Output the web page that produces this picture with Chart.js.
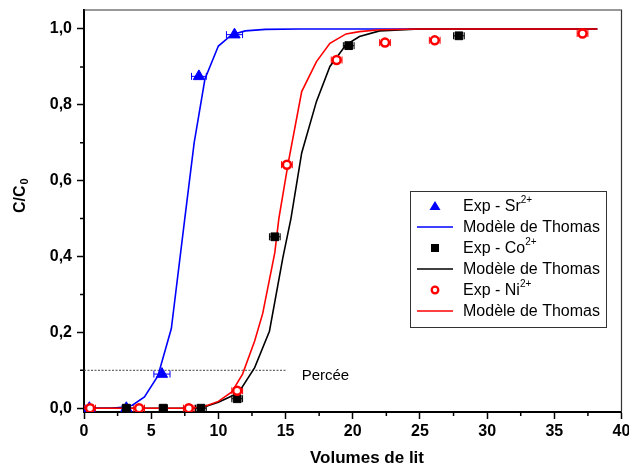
<!DOCTYPE html>
<html>
<head>
<meta charset="utf-8">
<script src="https://cdn.jsdelivr.net/npm/chart.js@4"></script>
<style>
  body { margin: 0; background: #fff; }
  canvas { display: block; }
</style>
</head>
<body>
<canvas id="myChart" width="629" height="466"></canvas>
<script>
// axis ticks
const xTicks = [0, 5, 10, 15, 20, 25, 30, 35, 40];
const yTicks = [0, 0.2, 0.4, 0.6, 0.8, 1.0];

// experimental points (volumes de lit, C/C0) and x error
const srX = [0.4, 3.15, 5.8, 8.55, 11.2];
const srY = [0, 0, 0.09, 0.875, 0.985];
const srErr = [0.3, 0.3, 0.6, 0.55, 0.6];

const coX = [3.15, 5.9, 8.7, 11.4, 14.2, 19.7, 27.9];
const coY = [0, 0, 0, 0.025, 0.452, 0.956, 0.982];
const coErr = [0.3, 0.3, 0.4, 0.4, 0.4, 0.4, 0.4];

const niX = [0.45, 4.1, 7.8, 11.4, 15.1, 18.8, 22.4, 26.1, 37.1];
const niY = [0, 0, 0, 0.046, 0.642, 0.918, 0.964, 0.97, 0.988];
const niErr = [0.4, 0.4, 0.4, 0.4, 0.4, 0.4, 0.4, 0.4, 0.4];

// Thomas model curves
const srModelX = [0, 1, 2, 3, 3.6, 4.5, 5.5, 6.5, 7.5, 8.2, 9.0, 10.0, 11.0, 12.0, 13.5, 16, 20, 25, 30, 35, 38.2];
const srModelY = [0, 0, 0, 0.003, 0.008, 0.03, 0.085, 0.21, 0.5, 0.7, 0.868, 0.955, 0.985, 0.995, 0.999, 1, 1, 1, 1, 1, 1];

const coModelX = [0, 4, 8, 9, 10, 11, 11.6, 12.7, 13.8, 14.8, 15.4, 16.2, 17.3, 18.3, 19.5, 20.5, 22, 25, 30, 35, 38.2];
const coModelY = [0, 0, 0, 0.004, 0.016, 0.032, 0.046, 0.107, 0.203, 0.397, 0.5, 0.673, 0.809, 0.901, 0.958, 0.98, 0.995, 1, 1, 1, 1];

const niModelX = [0, 4, 8, 9, 10, 11, 11.8, 12.7, 13.3, 14.2, 14.5, 15.2, 16.2, 17.3, 18.3, 19.5, 20.5, 22, 25, 30, 35, 38.2];
const niModelY = [0, 0, 0, 0.005, 0.018, 0.043, 0.09, 0.177, 0.25, 0.41, 0.5, 0.647, 0.835, 0.914, 0.962, 0.987, 0.993, 0.998, 1, 1, 1, 1];

// breakthrough line
const perceeX = [0, 15];
const perceeY = [0.1, 0.1];

function pts(xs, ys) {
  return xs.map((x, i) => ({ x: x, y: ys[i] }));
}

const BLUE = '#0000ff';
const BLACK = '#000000';
const RED = '#ff0000';

const datasets = [
  { label: 'Exp - Sr', sup: '2+', kind: 'triangle', data: pts(srX, srY), err: srErr,
    showLine: false, pointStyle: 'triangle', pointRadius: 6.5, backgroundColor: BLUE, borderColor: BLUE, borderWidth: 1, order: 2 },
  { label: 'Modèle de Thomas', kind: 'line', data: pts(srModelX, srModelY),
    borderColor: BLUE, borderWidth: 1.6, pointRadius: 0, order: 5 },
  { label: 'Exp - Co', sup: '2+', kind: 'rect', data: pts(coX, coY), err: coErr,
    showLine: false, pointStyle: 'rect', pointRadius: 5.5, backgroundColor: BLACK, borderColor: BLACK, borderWidth: 1, order: 1 },
  { label: 'Modèle de Thomas', kind: 'line', data: pts(coModelX, coModelY),
    borderColor: BLACK, borderWidth: 1.6, pointRadius: 0, order: 4 },
  { label: 'Exp - Ni', sup: '2+', kind: 'circle', data: pts(niX, niY), err: niErr,
    showLine: false, pointStyle: 'circle', pointRadius: 4, backgroundColor: '#ffffff', borderColor: RED, borderWidth: 2.5, order: 0 },
  { label: 'Modèle de Thomas', kind: 'line', data: pts(niModelX, niModelY),
    borderColor: RED, borderWidth: 1.6, pointRadius: 0, order: 3 },
  { label: 'Percée', kind: 'none', data: pts(perceeX, perceeY),
    borderColor: '#444', borderWidth: 1, borderDash: [2, 1.5], pointRadius: 0, order: 6 }
];

// horizontal error bars, minor ticks, frame, titles and legend
const extras = {
  id: 'extras',
  beforeDatasetsDraw(chart) {
    const ctx = chart.ctx;
    const xs = chart.scales.x, ys = chart.scales.y;
    ctx.save();
    chart.data.datasets.forEach(ds => {
      if (!ds.err) return;
      ctx.strokeStyle = ds.borderColor;
      ctx.lineWidth = 1;
      ds.data.forEach((p, i) => {
        const x1 = xs.getPixelForValue(p.x - ds.err[i]);
        const x2 = xs.getPixelForValue(p.x + ds.err[i]);
        const y = ys.getPixelForValue(p.y);
        ctx.beginPath();
        ctx.moveTo(x1, y); ctx.lineTo(x2, y);
        ctx.moveTo(x1, y - 3.5); ctx.lineTo(x1, y + 3.5);
        ctx.moveTo(x2, y - 3.5); ctx.lineTo(x2, y + 3.5);
        ctx.stroke();
      });
    });
    ctx.restore();
  },
  afterDraw(chart) {
    const ctx = chart.ctx;
    const a = chart.chartArea;
    const xs = chart.scales.x, ys = chart.scales.y;
    ctx.save();

    // top and right frame
    ctx.strokeStyle = '#333';
    ctx.lineWidth = 1.2;
    ctx.beginPath();
    ctx.moveTo(a.left, a.top); ctx.lineTo(a.right, a.top); ctx.lineTo(a.right, a.bottom);
    ctx.stroke();

    // minor ticks
    ctx.strokeStyle = '#000';
    ctx.lineWidth = 1.5;
    ctx.beginPath();
    for (let i = 0; i < xTicks.length - 1; i++) {
      const px = xs.getPixelForValue((xTicks[i] + xTicks[i + 1]) / 2);
      ctx.moveTo(px, a.bottom); ctx.lineTo(px, a.bottom + 4);
    }
    for (let i = 0; i < yTicks.length - 1; i++) {
      const py = ys.getPixelForValue((yTicks[i] + yTicks[i + 1]) / 2);
      ctx.moveTo(a.left, py); ctx.lineTo(a.left - 4, py);
    }
    ctx.stroke();

    // axis titles
    ctx.fillStyle = '#000';
    ctx.font = 'bold 17px "Liberation Sans", Arial, sans-serif';
    ctx.textAlign = 'center';
    ctx.textBaseline = 'alphabetic';
    ctx.fillText('Volumes de lit', 367, 463);

    ctx.translate(25, 213);
    ctx.rotate(-Math.PI / 2);
    ctx.textAlign = 'left';
    ctx.font = 'bold 16px "Liberation Sans", Arial, sans-serif';
    ctx.fillText('C/C', 0, 0);
    const w = ctx.measureText('C/C').width;
    ctx.font = 'bold 11px "Liberation Sans", Arial, sans-serif';
    ctx.fillText('0', w + 1, 3);
    ctx.setTransform(1, 0, 0, 1, 0, 0);

    // Percée label
    ctx.font = '15px "Liberation Sans", Arial, sans-serif';
    ctx.textAlign = 'left';
    ctx.fillText('Percée', xs.getPixelForValue(16.2), ys.getPixelForValue(0.1) + 10);

    // legend
    const box = { left: 410, top: 191, right: 606, bottom: 327 };
    ctx.strokeStyle = '#333';
    ctx.lineWidth = 1;
    ctx.strokeRect(box.left + 0.5, box.top + 0.5, box.right - box.left, box.bottom - box.top);
    let row = 0;
    chart.data.datasets.forEach(ds => {
      if (ds.kind === 'none') return;
      const y = 206 + row * 21;
      const cx = 435;
      ctx.fillStyle = ds.borderColor;
      ctx.strokeStyle = ds.borderColor;
      if (ds.kind === 'line') {
        ctx.lineWidth = 1.6;
        ctx.beginPath(); ctx.moveTo(417, y); ctx.lineTo(453, y); ctx.stroke();
      } else if (ds.kind === 'triangle') {
        ctx.beginPath();
        ctx.moveTo(cx, y - 5); ctx.lineTo(cx + 5.5, y + 4); ctx.lineTo(cx - 5.5, y + 4);
        ctx.closePath(); ctx.fill();
      } else if (ds.kind === 'rect') {
        ctx.fillRect(cx - 4, y - 4, 8, 8);
      } else if (ds.kind === 'circle') {
        ctx.lineWidth = 2.3;
        ctx.beginPath(); ctx.arc(cx, y, 3.3, 0, Math.PI * 2); ctx.stroke();
      }
      ctx.fillStyle = '#000';
      ctx.font = '16px "Liberation Sans", Arial, sans-serif';
      ctx.textBaseline = 'middle';
      ctx.fillText(ds.label, 463, y + 1);
      if (ds.sup) {
        const tw = ctx.measureText(ds.label).width;
        ctx.font = '10px "Liberation Sans", Arial, sans-serif';
        ctx.fillText(ds.sup, 463 + tw, y - 6);
      }
      row++;
    });
    ctx.restore();
  }
};

const fmt = v => v.toFixed(1).replace('.', ',');

new Chart(document.getElementById('myChart'), {
  type: 'line',
  data: { datasets: datasets },
  options: {
    responsive: false,
    animation: false,
    devicePixelRatio: 1,
    layout: { padding: { top: 10, right: 7, left: 0, bottom: 0 } },
    plugins: { legend: { display: false }, tooltip: { enabled: false } },
    elements: { line: { tension: 0, fill: false } },
    scales: {
      x: {
        type: 'linear', min: 0, max: 40,
        afterBuildTicks: s => { s.ticks = xTicks.map(v => ({ value: v })); },
        afterFit: s => { s.height = 54; s.paddingLeft = 0; s.paddingRight = 0; },
        ticks: { color: '#000', font: { family: '"Liberation Sans", Arial', size: 16, weight: 'bold' }, padding: 3, maxRotation: 0 },
        grid: { drawOnChartArea: false, tickLength: 7, color: '#000', tickWidth: 1.5 },
        border: { color: '#000', width: 2 }
      },
      y: {
        type: 'linear', min: -0.01, max: 1.05,
        afterBuildTicks: s => { s.ticks = yTicks.map(v => ({ value: v })); },
        afterFit: s => { s.width = 84; s.paddingTop = 0; s.paddingBottom = 0; },
        ticks: { color: '#000', font: { family: '"Liberation Sans", Arial', size: 16, weight: 'bold' }, padding: 5, callback: fmt },
        grid: { drawOnChartArea: false, tickLength: 7, color: '#000', tickWidth: 1.5 },
        border: { color: '#000', width: 2 }
      }
    }
  },
  plugins: [extras]
});
</script>
</body>
</html>
